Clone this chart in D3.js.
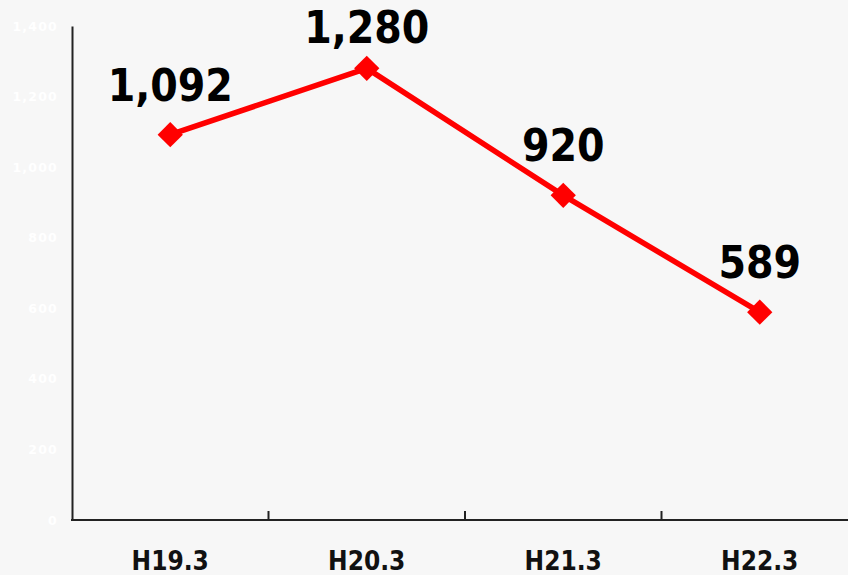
<!doctype html>
<html lang="ja">
<head>
<meta charset="UTF-8">
<title>chart</title>
<script src="https://d3js.org/d3.v7.min.js"></script>
<style>
  body { margin: 0; background: #f7f7f7; }
  svg { display: block; }
</style>
</head>
<body>
<div id="chart"></div>
<script>
var categories = ["H19.3", "H20.3", "H21.3", "H22.3"];
var values = [1092, 1280, 920, 589];
var yTicks = [0, 200, 400, 600, 800, 1000, 1200, 1400];

var width = 848, height = 575;
var margin = {top: 26, right: -10, bottom: 55, left: 72};

var svg = d3.select("#chart")
    .append("svg")
    .attr("width", width)
    .attr("height", height);

svg.append("rect")
    .attr("width", width)
    .attr("height", height)
    .attr("fill", "#f7f7f7");

var x = d3.scaleBand()
    .domain(categories)
    .range([margin.left, width - margin.right])
    .padding(0);

var y = d3.scaleLinear()
    .domain([0, 1400])
    .range([height - margin.bottom, margin.top]);

// y axis: white labels, no ticks
var yAxis = svg.append("g")
    .attr("transform", "translate(" + margin.left + ",0)")
    .call(d3.axisLeft(y).tickValues(yTicks).tickSize(0).tickPadding(14).tickFormat(d3.format(",")));
yAxis.select(".domain").attr("stroke", "#222").attr("stroke-width", 2);
yAxis.selectAll("text")
    .attr("fill", "#ffffff")
    .attr("font-family", "DejaVu Sans")
    .attr("font-weight", "bold")
    .attr("font-size", "12.5px")
    .attr("letter-spacing", "1.2px");

// x axis: ticks between categories pointing up
var xBase = y(0);
var xAxis = svg.append("g");
xAxis.append("line")
    .attr("x1", margin.left - 1)
    .attr("x2", width)
    .attr("y1", xBase)
    .attr("y2", xBase)
    .attr("stroke", "#222")
    .attr("stroke-width", 2);
xAxis.selectAll(".sep")
    .data(categories.slice(1))
    .enter().append("line")
    .attr("x1", function(d) { return x(d); })
    .attr("x2", function(d) { return x(d); })
    .attr("y1", xBase)
    .attr("y2", xBase - 9)
    .attr("stroke", "#222")
    .attr("stroke-width", 2);
xAxis.selectAll(".cat")
    .data(categories)
    .enter().append("text")
    .attr("x", function(d) { return x(d) + x.bandwidth() / 2; })
    .attr("y", 570)
    .attr("text-anchor", "middle")
    .attr("font-family", "DejaVu Sans Condensed, DejaVu Sans")
    .attr("font-weight", "bold")
    .attr("font-size", "26px")
    .attr("fill", "#111")
    .text(function(d) { return d; });

var cx = function(d, i) { return x(categories[i]) + x.bandwidth() / 2; };

var line = d3.line()
    .x(function(d, i) { return cx(d, i); })
    .y(function(d) { return y(d); });

svg.append("path")
    .datum(values)
    .attr("d", line)
    .attr("fill", "none")
    .attr("stroke", "#ff0000")
    .attr("stroke-width", 5.5);

svg.selectAll(".pt")
    .data(values)
    .enter().append("path")
    .attr("d", d3.symbol().type(d3.symbolSquare).size(320))
    .attr("transform", function(d, i) { return "translate(" + cx(d, i) + "," + y(d) + ") rotate(45)"; })
    .attr("fill", "#ff0000");

svg.selectAll(".lbl")
    .data(values)
    .enter().append("text")
    .attr("x", function(d, i) { return cx(d, i); })
    .attr("y", function(d) { return Math.max(y(d) - 34, 43); })
    .attr("text-anchor", "middle")
    .attr("font-family", "DejaVu Sans Condensed, DejaVu Sans")
    .attr("font-weight", "bold")
    .attr("font-size", "44px")
    .attr("fill", "#000")
    .text(function(d) { return d3.format(",")(d); });
</script>
</body>
</html>
